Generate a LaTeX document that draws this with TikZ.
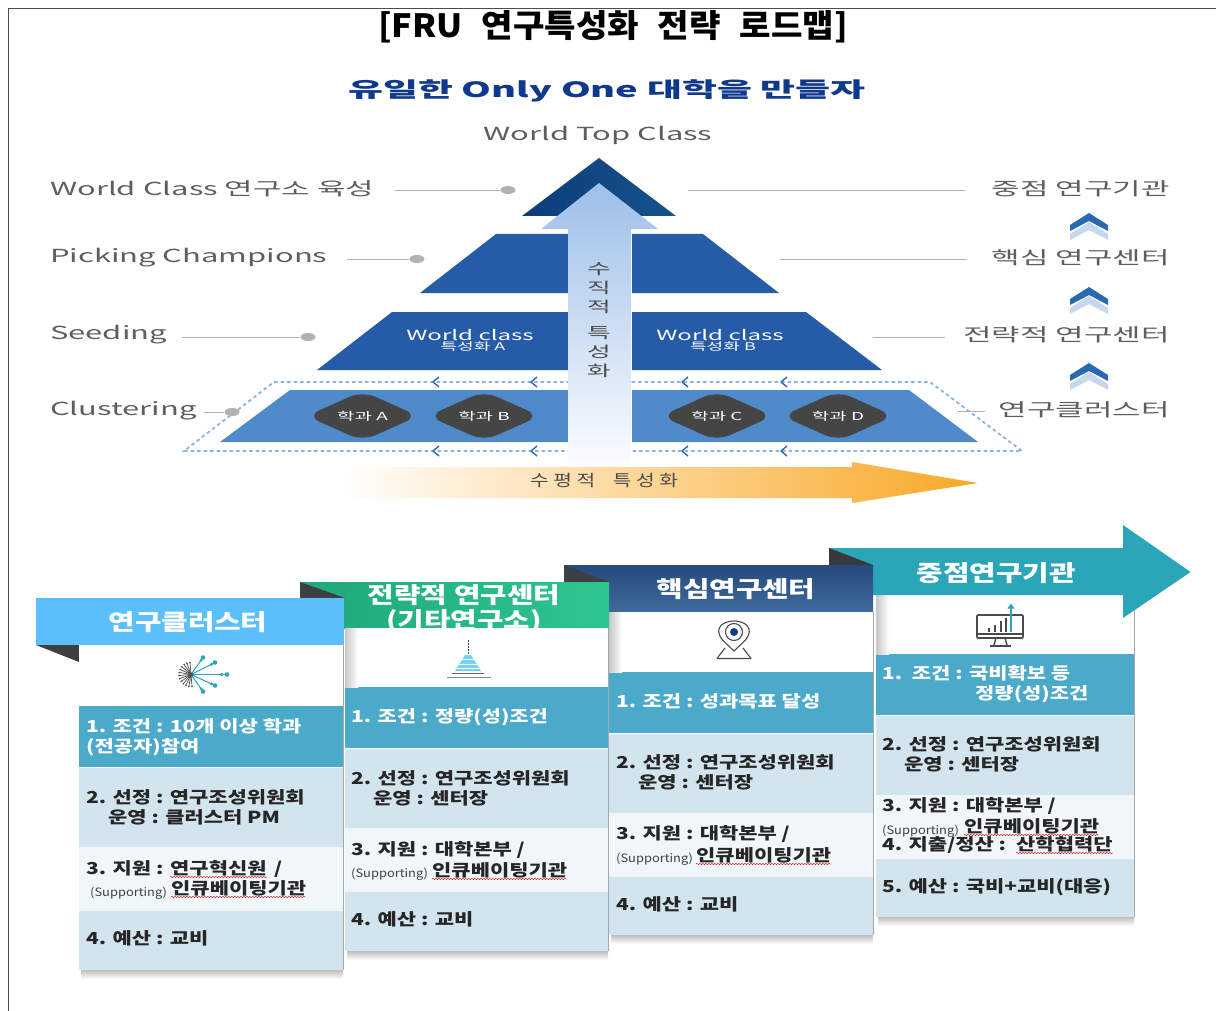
\documentclass[tikz,border=0pt]{standalone}
\usepackage{fontspec}
\setmainfont{Noto Sans CJK KR}
\newfontfamily\kwide[FakeStretch=1.72]{Noto Sans CJK KR}
\newfontfamily\ksub[FakeStretch=1.81]{Noto Sans CJK KR}
\newfontfamily\kmid[FakeStretch=1.27]{Noto Sans CJK KR}
\newfontfamily\khead[FakeStretch=1.28]{Noto Sans CJK KR}
\newfontfamily\ktitle[FakeStretch=1.07]{Noto Sans CJK KR}
\newfontfamily\ksup[FakeStretch=1.12]{Noto Sans CJK KR}
\usetikzlibrary{shapes.geometric,decorations.pathmorphing,calc}
\definecolor{greytxt}{HTML}{5E5E5E}
\definecolor{navy}{HTML}{0F3F80}
\definecolor{lvlb}{HTML}{265BA8}
\definecolor{lvlc}{HTML}{4F8BCB}
\definecolor{dashb}{HTML}{8DB3DD}
\definecolor{chev}{HTML}{2A69B0}
\definecolor{chevl}{HTML}{C5D8EE}
\definecolor{diam}{HTML}{454545}
\definecolor{orangeb}{HTML}{F9A825}
\definecolor{rowa}{HTML}{4BA9C9}
\definecolor{rowb}{HTML}{D2E4EE}
\definecolor{rowc}{HTML}{F0F6FA}
\definecolor{fold}{HTML}{3C3F44}
\definecolor{teal}{HTML}{2BA6B9}
\definecolor{icon}{HTML}{4A4A4A}
\definecolor{arrowtop}{HTML}{9DBFE9}
\definecolor{arrowmid}{HTML}{B5CDEE}
\definecolor{headsky}{HTML}{5BBFFB}
\definecolor{greena}{HTML}{20A87A}
\definecolor{greenb}{HTML}{2DC68F}
\definecolor{navya}{HTML}{264A7C}
\definecolor{navyb}{HTML}{3F6A9C}
\tikzset{
  sidelab/.style={inner sep=0pt,text=greytxt,font=\kwide\fontsize{18}{20}\selectfont},
  sideline/.style={draw=black!30,line width=0.9pt},
  sidedot/.style={ellipse,fill=black!30,inner sep=0pt,minimum width=15pt,minimum height=8pt},
  rowtxt/.style={inner sep=0pt,anchor=base west,text=black!85,font=\kmid\bfseries\fontsize{16.5}{19}\selectfont},
  rowhead/.style={rowtxt,text=white},
  suptxt/.style={inner sep=0pt,anchor=base west,text=black!75,font=\ksup\fontsize{11.5}{12}\selectfont},
  headtxt/.style={inner sep=0pt,text=white,font=\khead\bfseries\fontsize{22.5}{25}\selectfont},
  wavy/.style={draw=red!80!black,line width=0.45pt,decorate,decoration={snake,amplitude=0.6pt,segment length=3pt}},
  diamondbox/.style={diamond,aspect=2.3,fill=diam,rounded corners=14pt,inner sep=0pt,minimum width=112pt,minimum height=50pt,text=white,font=\kwide\fontsize{11}{12}\selectfont},
  hchev/.style={draw=chev,line width=1.4pt,line join=round},
  whitelab/.style={inner sep=0pt,text=white}
}
\newcommand{\chevpair}[1]{%
  \fill[chevl,shift={(0,#1)}] (1070,234) -- (1089,222) -- (1108,234) -- (1108,240) -- (1089,230) -- (1070,240) -- cycle;
  \fill[chev,shift={(0,#1)}] (1070,225) -- (1089,213) -- (1108,225) -- (1108,231) -- (1089,221) -- (1070,231) -- cycle;
}
\newcommand{\hch}[2]{\draw[hchev] (#1+4,#2-5) -- (#1-2,#2) -- (#1+4,#2+5);}
\newcommand{\cardbody}[7]{%
  \shade[top color=black!25,bottom color=white] (#1+2,#7) rectangle (#2,#7+9);
  \fill[white] (#1,#3) rectangle (#2,#4);
  \fill[rowa] (#1,#4) rectangle (#2,#5-1);
  \fill[rowb] (#1,#5) rectangle (#2,#6);
  \fill[rowc] (#1,#6) rectangle (#2,#6+64);
  \fill[rowb] (#1,#6+64) rectangle (#2,#7);
  \draw[black!35,line width=0.8pt] (#2,#3) -- (#2,#7);
}
\newcommand{\innershade}[3]{\shade[left color=black!22,right color=white] (#1,#2) rectangle (#1+13,#3);}
\newcommand{\lab}[5][rowtxt]{\node[#1] (#2) at (#3,{#4+6}) {#5};}
\begin{document}
\begin{tikzpicture}[x=1pt,y=-1pt]
\useasboundingbox (0,0) rectangle (1216,1011);
\fill[white] (0,0) rectangle (1216,1011);
\draw[black!70,line width=0.9pt] (8,1011) -- (8,8) -- (1216,8);

% titles
\node[inner sep=0pt,font=\ktitle\bfseries\fontsize{32}{34}\selectfont] (title) at (613,27) {[FRU\hspace{11pt} 연구특성화\hspace{11pt} 전략\hspace{11pt} 로드맵]};
\node[inner sep=0pt,text=navy!90!blue,font=\ksub\bfseries\fontsize{21}{23}\selectfont] (subtitle) at (607,91) {유일한 Only One 대학을 만들자};
\node[sidelab] (wtc) at (598,135) {World Top Class};

% pyramid
\shade[left color=navy!95!black,right color=navy!80!teal] (599,158) -- (676,216) -- (522,216) -- cycle;
\fill[lvlb] (496,234) -- (568,234) -- (568,293) -- (420,293) -- cycle;
\fill[lvlb] (632,234) -- (703,234) -- (779,293) -- (632,293) -- cycle;
\fill[lvlb] (392,312) -- (568,312) -- (568,370) -- (317,370) -- cycle;
\fill[lvlb] (632,312) -- (806,312) -- (882,370) -- (632,370) -- cycle;
\fill[lvlc] (290,390) -- (568,390) -- (568,442) -- (220,442) -- cycle;
\fill[lvlc] (632,390) -- (909,390) -- (978,442) -- (632,442) -- cycle;
\draw[dashb,line width=1.8pt,dash pattern=on 3.5pt off 3pt] (274,382) -- (930,382) -- (1022,451) -- (184,451) -- cycle;
\foreach \xx in {435,533,684,783}{\hch{\xx}{382}\hch{\xx}{451}}
% vertical arrow
\shade[top color=arrowtop,middle color=arrowmid,bottom color=white]
  (599,183) -- (658,229) -- (631,229) -- (631,478) -- (568,478) -- (568,229) -- (541,229) -- cycle;
\node[inner sep=0pt,text=black!70,align=center,font=\kwide\fontsize{15}{19}\selectfont] (vert) at (599,320) {수\\직\\적\\[7pt]특\\성\\화};

% pyramid texts
\node[whitelab,font=\kwide\fontsize{14}{16}\selectfont] (wca) at (470,335) {World class};
\node[whitelab,font=\kwide\fontsize{10.5}{11}\selectfont] (spa) at (473,347) {특성화 A};
\node[whitelab,font=\kwide\fontsize{14}{16}\selectfont] (wcb) at (720,335) {World class};
\node[whitelab,font=\kwide\fontsize{10.5}{11}\selectfont] (spb) at (723,347) {특성화 B};
\node[diamondbox] (da) at (362.5,416) {학과 A};
\node[diamondbox] (db) at (484,416) {학과 B};
\node[diamondbox] (dc) at (717,416) {학과 C};
\node[diamondbox] (dd) at (838,416) {학과 D};

% horizontal arrow
\shade[left color=white,middle color=orangeb!45!white,right color=orangeb]
  (340,467) -- (852,467) -- (852,462) -- (978,483) -- (852,503) -- (852,498) -- (340,498) -- cycle;
\node[inner sep=0pt,text=black!70,font=\kmid\fontsize{16}{18}\selectfont] (horiz) at (604,481) {수 평 적\hspace{13pt} 특 성 화};

% left labels
\node[sidelab,anchor=west] (l1) at (50,189) {World Class 연구소 육성};
\node[sidelab,anchor=west] (l2) at (50,258) {Picking Champions};
\node[sidelab,anchor=west] (l3) at (50,335) {Seeding};
\node[sidelab,anchor=west] (l4) at (50,411) {Clustering};
\node[sidedot] (d1) at (508,190) {};
\node[sidedot] (d2) at (417,259) {};
\node[sidedot] (d3) at (308,337) {};
\node[sidedot] (d4) at (232,412) {};
\coordinate (s1) at (395,190);
\coordinate (s2) at (347,259);
\coordinate (s3) at (182,337);
\coordinate (s4) at (204,412);
\draw[sideline] (s1) -- (d1);
\draw[sideline] (s2) -- (d2);
\draw[sideline] (s3) -- (d3);
\draw[sideline] (s4) -- (d4);

% right labels
\node[sidelab,anchor=east] (r1) at (1170,189) {중점 연구기관};
\node[sidelab,anchor=east] (r2) at (1170,258) {핵심 연구센터};
\node[sidelab,anchor=east] (r3) at (1170,335) {전략적 연구센터};
\node[sidelab,anchor=east] (r4) at (1170,410) {연구클러스터};
\coordinate (c1) at (688,190);
\coordinate (c2) at (780,259);
\coordinate (c3) at (873,337);
\coordinate (c4) at (958,411);
\draw[sideline] (c1) -- (965,190);
\draw[sideline] (c2) -- (967,259);
\draw[sideline] (c3) -- (945,337);
\draw[sideline] (c4) -- (985,411);
\chevpair{0}\chevpair{74}\chevpair{150}

% card 4 (back)
\cardbody{876}{1134}{595}{654}{716}{795}{917}
\innershade{876}{595}{654}
\fill[teal] (829,548) -- (1123,548) -- (1123,525) -- (1190.5,572) -- (1123,618) -- (1123,595) -- (829,595) -- cycle;
\fill[fold!90!black] (829,548) -- (873,565) -- (829,565) -- cycle;
\node[headtxt] (h4) at (996,573) {중점연구기관};
% card 3
\shade[top color=navya,bottom color=navyb] (564,565) rectangle (873,612);
\fill[fold] (564,565) -- (609,582) -- (564,582) -- cycle;
\node[headtxt] (h3) at (736,589) {핵심연구센터};
\cardbody{609}{873}{612}{672}{734}{813}{935}
\innershade{609}{612}{672}
% card 2
\shade[left color=greena,right color=greenb] (300,582) rectangle (609,628);
\fill[fold] (300,582) -- (345,598) -- (300,598) -- cycle;
\node[headtxt,align=center] (h2) at (464,609) {전략적 연구센터\\(기타연구소)};
\cardbody{345}{608}{628}{687}{749}{828}{951}
\innershade{345}{628}{687}
% card 1
\fill[headsky] (36,598) rectangle (344,645);
\fill[fold] (36,645) -- (79,645) -- (79,662) -- cycle;
\node[headtxt] (h1) at (188,622) {연구클러스터};
\cardbody{79}{343}{645}{706}{768}{847}{970}

% card 1 texts
\lab[rowhead]{a1a}{86}{726}{1. 조건 : 10개 이상 학과}
\lab[rowhead]{a1b}{86}{746}{(전공자)참여}
\lab{a2a}{86}{797}{2. 선정 : 연구조성위원회}
\lab{a2b}{108}{817}{운영 : 클러스터 PM}
\lab{a3a}{86}{868}{3. 지원 :}
\lab{a3b}{170}{868}{연구혁신원}
\lab{a3c}{274}{868}{/}
\lab[suptxt]{a3s}{90}{890}{(Supporting)}
\lab{a3d}{171}{888}{인큐베이팅기관}
\lab{a4a}{86}{938}{4. 예산 : 교비}
\draw[wavy] ([yshift=-3pt]a3b.base west) -- ([yshift=-3pt]a3b.base east);
\draw[wavy] ([yshift=-3pt]a3d.base west) -- ([yshift=-3pt]a3d.base east);

% card 2 texts
\lab[rowhead]{b1a}{351}{716}{1. 조건 : 정량(성)조건}
\lab{b2a}{351}{778}{2. 선정 : 연구조성위원회}
\lab{b2b}{373}{798}{운영 : 센터장}
\lab{b3a}{351}{849}{3. 지원 : 대학본부 /}
\lab[suptxt]{b3s}{351}{871}{(Supporting)}
\lab{b3d}{432}{870}{인큐베이팅기관}
\lab{b4a}{351}{919}{4. 예산 : 교비}
\draw[wavy] ([yshift=-3pt]b3d.base west) -- ([yshift=-3pt]b3d.base east);

% card 3 texts
\lab[rowhead]{c1a}{616}{701}{1. 조건 : 성과목표 달성}
\lab{c2a}{616}{762}{2. 선정 : 연구조성위원회}
\lab{c2b}{638}{782}{운영 : 센터장}
\lab{c3a}{616}{833}{3. 지원 : 대학본부 /}
\lab[suptxt]{c3s}{616}{856}{(Supporting)}
\lab{c3d}{696}{855}{인큐베이팅기관}
\lab{c4a}{616}{904}{4. 예산 : 교비}
\draw[wavy] ([yshift=-3pt]c3d.base west) -- ([yshift=-3pt]c3d.base east);

% card 4 texts
\lab[rowhead]{d1a}{882}{673}{1.\ \ 조건 : 국비확보 등}
\lab[rowhead]{d1b}{975}{693}{정량(성)조건}
\lab{d2a}{882}{744}{2. 선정 : 연구조성위원회}
\lab{d2b}{904}{764}{운영 : 센터장}
\lab{d3a}{882}{805}{3. 지원 : 대학본부 /}
\lab[suptxt]{d3s}{882}{828}{(Supporting)}
\lab{d3d}{964}{826}{인큐베이팅기관}
\lab{d4a}{882}{844}{4. 지출/정산 :}
\lab{d4b}{1016}{844}{산학협력단}
\lab{d5a}{882}{886}{5. 예산 : 국비+교비(대응)}
\draw[wavy] ([yshift=-3pt]d3d.base west) -- ([yshift=-3pt]d3d.base east);
\draw[wavy] ([yshift=-3pt]d4b.base west) -- ([yshift=-3pt]d4b.base east);

% icon 1: burst
\begin{scope}[shift={(191,674.5)}]
  \foreach \a in {85,100,...,275}{
    \draw[icon,line width=0.7pt] (0,0) -- (\a:12);
    \fill[icon] (\a:12) circle (0.9);
  }
  \foreach \px/\py in {12/-17,24/-12,36/0,24/11,12/17}{
    \draw[teal,line width=1pt] (0,0) -- (\px,\py);
    \fill[teal] (\px,\py) circle (2.3);
    \fill[teal] (\px*0.85,\py*0.85) circle (1.7);
  }
  \fill[icon] (0,0) circle (2);
\end{scope}

% icon 2: stacked tower
\draw[icon,line width=1pt,dash pattern=on 2pt off 1pt] (468,640) -- (468,655);
\fill[cyan!55!white] (465,655) -- (471,655) -- (481,671) -- (455,671) -- cycle;
\foreach \yy in {659,664,668}{\draw[white,line width=0.8pt] (450,\yy) -- (486,\yy);}
\draw[black!60,line width=1pt] (452,673) -- (484,673);
\draw[black!45,line width=1pt] (447,677.5) -- (491,677.5);

% icon 3: pin
\fill[white,draw=icon,line width=1.1pt] (734,651) -- (722.5,640) .. controls (713,628) and (723,621) .. (734,621) .. controls (745,621) and (755,628) .. (745.5,640) -- cycle;
\draw[icon,line width=1.1pt] (734,632) circle (8.5);
\fill[navy] (734,632) circle (4);
\draw[icon,line width=1.1pt,line join=round] (725,648) -- (717,658.5) -- (751,658.5) -- (743,648);

% icon 4: monitor
\draw[icon,line width=1.6pt,rounded corners=1pt] (977,615) rectangle (1023,638);
\draw[icon,line width=1.4pt] (977,634) -- (1023,634);
\draw[icon,line width=1.4pt] (996,638) -- (994,645);
\draw[icon,line width=1.4pt] (1005,638) -- (1007,645);
\draw[icon,line width=1.6pt] (990,646) -- (1011,646);
\foreach \xx/\yy in {989/628,995/625,1001/621,1006/618}{\draw[icon,line width=1.6pt] (\xx,632) -- (\xx,\yy);}
\draw[teal,line width=1.6pt] (1011,632) -- (1011,607);
\fill[teal] (1011,603.5) -- (1014.5,608.5) -- (1007.5,608.5) -- cycle;
\end{tikzpicture}
\end{document}
